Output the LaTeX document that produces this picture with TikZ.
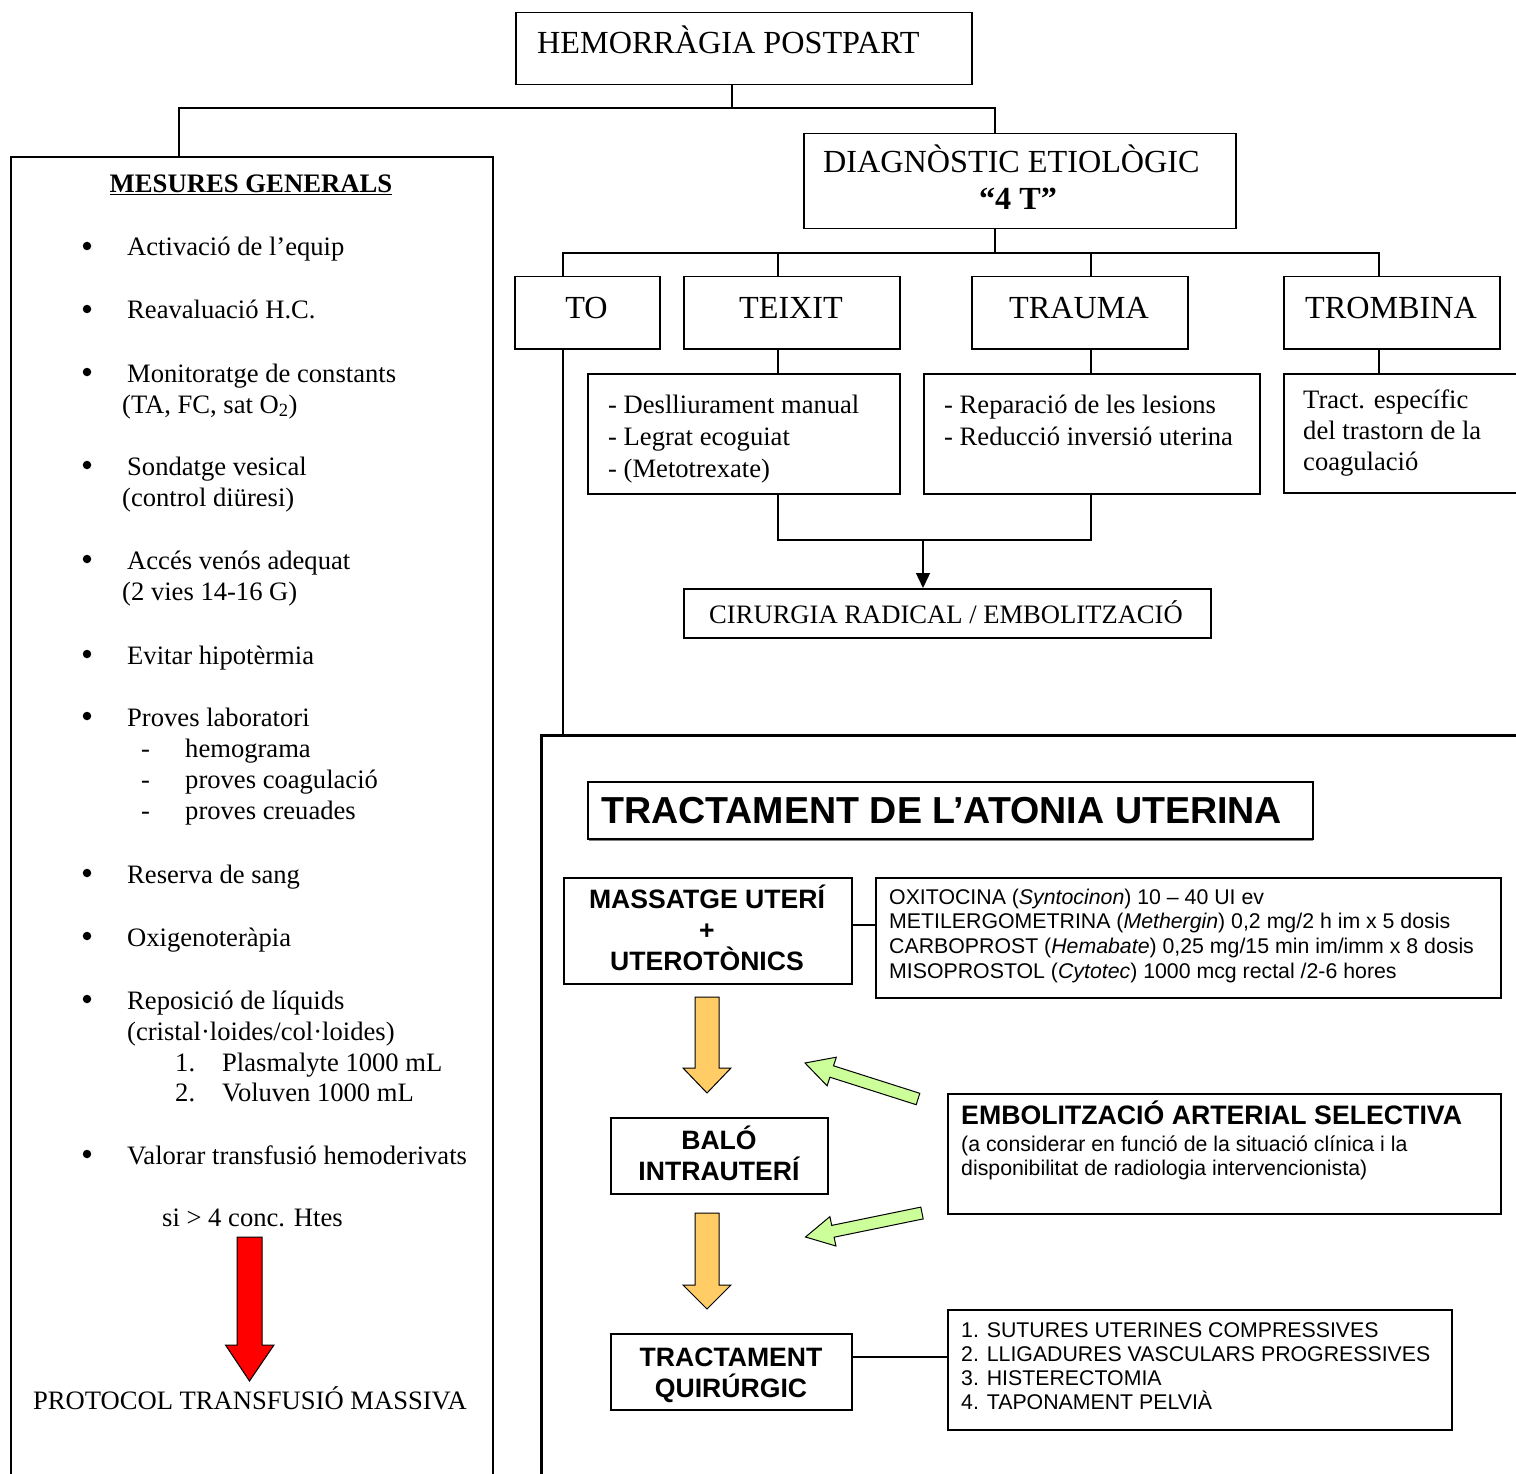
\documentclass[tikz,border=0pt]{standalone}
\usepackage{fontspec}
\setmainfont{Liberation Serif}
\setsansfont{Liberation Sans}
\usetikzlibrary{arrows.meta}
\definecolor{orangefill}{RGB}{255,204,102}
\definecolor{greenfill}{RGB}{204,255,153}
\begin{document}
\begin{tikzpicture}[x=1pt,y=-1pt,
  box/.style={draw, line width=1.5pt, inner sep=0pt, anchor=north west},
  link/.style={line width=1.4pt},
  txt/.style={anchor=base west, inner sep=0pt},
  ctxt/.style={anchor=base, inner sep=0pt},
  dot/.style={circle, fill, inner sep=0pt, minimum size=8.5pt},
  serifL/.style={font=\fontsize{32.2}{38}\selectfont},
  serifM/.style={font=\fontsize{26.6}{31}\selectfont},
  sansT/.style={font=\sffamily\bfseries\fontsize{37.6}{44}\selectfont},
  sansB/.style={font=\sffamily\bfseries\fontsize{26.6}{31}\selectfont},
  sansH/.style={font=\sffamily\bfseries\fontsize{26.7}{31}\selectfont},
  sansS/.style={font=\sffamily\fontsize{21.3}{25}\selectfont},
  blockarrow/.style={draw=black, line width=1pt, line join=miter},
]
\useasboundingbox (0,0) rectangle (1516,1474);
\clip (0,0) rectangle (1516,1474);

% ---------- boxes ----------
\node[box, minimum width=456pt, minimum height=72pt]  (hpp)      at (515,12) {};
\node[box, minimum width=482pt, minimum height=1340pt, line width=1.8pt] (mg) at (10,156) {};
\node[box, minimum width=432pt, minimum height=95pt]  (diag)     at (803,133) {};
\node[box, minimum width=145pt, minimum height=72pt]  (to)       at (514,276) {};
\node[box, minimum width=216pt, minimum height=72pt]  (teixit)   at (683,276) {};
\node[box, minimum width=216pt, minimum height=72pt]  (trauma)   at (971,276) {};
\node[box, minimum width=216pt, minimum height=72pt]  (trombina) at (1283,276) {};
\node[box, minimum width=312pt, minimum height=120pt] (teixitT)  at (587,373) {};
\node[box, minimum width=336pt, minimum height=120pt] (traumaT)  at (923,373) {};
\node[box, minimum width=260pt, minimum height=119pt] (trombT)   at (1283,373) {};
\node[box, minimum width=527pt, minimum height=49pt]  (cir)      at (683,588) {};
\node[box, minimum width=1000pt, minimum height=800pt, line width=3.4pt] (atonia) at (540,734) {};
\draw[line width=1.2pt, gray] (589,840) -- (1313,840);
\node[box, minimum width=725pt, minimum height=57pt]  (title)    at (587,781) {};
\node[box, minimum width=288pt, minimum height=106pt] (mass)     at (563,877) {};
\node[box, minimum width=625pt, minimum height=120pt] (drugs)    at (875,877) {};
\node[box, minimum width=217pt, minimum height=76pt]  (balo)     at (610,1117) {};
\node[box, minimum width=553pt, minimum height=120pt] (embol)    at (947,1093) {};
\node[box, minimum width=241pt, minimum height=76pt]  (quir)     at (610,1333) {};
\node[box, minimum width=504pt, minimum height=120pt] (surg)     at (947,1309) {};

% ---------- connector positions ----------
\coordinate (xA)  at (732,0);
\coordinate (xB)  at (179,0);
\coordinate (xC)  at (995,0);
\coordinate (xTo) at (563,0);
\coordinate (xTe) at (778,0);
\coordinate (xTa) at (1091,0);
\coordinate (xTr) at (1379,0);
\coordinate (xCi) at (923,0);
\coordinate (busA) at (0,108);
\coordinate (busB) at (0,253);
\coordinate (busC) at (0,540);
\coordinate (yM) at (0,925);
\coordinate (yQ) at (0,1357);

% ---------- connectors ----------
\draw[link] (hpp.south -| xA) -- (xA |- busA);
\draw[link] (mg.north -| xB) -- (xB |- busA) -- (xC |- busA) -- (diag.north -| xC);
\draw[link] (diag.south -| xC) -- (xC |- busB);
\draw[link] (to.north -| xTo) -- (xTo |- busB) -- (xTr |- busB) -- (trombina.north -| xTr);
\draw[link] (teixit.north -| xTe) -- (xTe |- busB);
\draw[link] (trauma.north -| xTa) -- (xTa |- busB);
\draw[link] (teixit.south -| xTe) -- (teixitT.north -| xTe);
\draw[link] (trauma.south -| xTa) -- (traumaT.north -| xTa);
\draw[link] (trombina.south -| xTr) -- (trombT.north -| xTr);
\draw[link] (teixitT.south -| xTe) -- (xTe |- busC) -- (xTa |- busC) -- (traumaT.south -| xTa);
\draw[link, -{Triangle[length=15pt, width=14pt]}] (xCi |- busC) -- (cir.north -| xCi);
\draw[link] (to.south -| xTo) -- (atonia.north -| xTo);
\draw[link] (mass.east |- yM) -- (drugs.west |- yM);
\draw[link] (quir.east |- yQ) -- (surg.west |- yQ);

% ---------- block arrows ----------
\filldraw[blockarrow, fill=orangefill] (695,997) -- (719,997) -- (719,1068) -- (731,1068)
  -- (707,1093) -- (683,1068) -- (695,1068) -- cycle;
\filldraw[blockarrow, fill=orangefill] (695,1213) -- (719,1213) -- (719,1285) -- (731,1285)
  -- (707,1309) -- (683,1285) -- (695,1285) -- cycle;
\filldraw[blockarrow, fill=greenfill] (919.8,1093.3) -- (833.5,1065.8) -- (836.3,1057.2)
  -- (805,1063) -- (827.1,1085.8) -- (829.9,1077.2) -- (916.2,1104.7) -- cycle;
\filldraw[blockarrow, fill=greenfill] (923.2,1218.9) -- (834.1,1237.2) -- (835.9,1246)
  -- (805.5,1237) -- (829.9,1216.6) -- (831.7,1225.4) -- (920.8,1207.1) -- cycle;
\filldraw[blockarrow, fill=red] (237,1237) -- (262,1237) -- (262,1345) -- (274,1345)
  -- (249.5,1381) -- (225.5,1345) -- (237,1345) -- cycle;

% ---------- upper tree texts ----------
\node[txt, serifL] (tHpp) at (537,54) {HEMORRÀGIA POSTPART};
\node[txt, serifL] (tDiag) at (823,173) {DIAGNÒSTIC ETIOLÒGIC};
\node[ctxt, font=\bfseries\fontsize{32.2}{38}\selectfont] (tDiag2) at (1018,210) {“4 T”};
\node[ctxt, serifL] (tTo) at (586.5,318) {TO};
\node[ctxt, serifL] (tTe) at (791,318) {TEIXIT};
\node[ctxt, serifL] (tTa) at (1079,318) {TRAUMA};
\node[ctxt, serifL] (tTr) at (1391,318) {TROMBINA};
\node[txt, serifM] (tTe1) at (608,413) {- Deslliurament manual};
\node[txt, serifM] (tTe2) at (608,445) {- Legrat ecoguiat};
\node[txt, serifM] (tTe3) at (608,477) {- (Metotrexate)};
\node[txt, serifM] (tTa1) at (944,413) {- Reparació de les lesions};
\node[txt, serifM] (tTa2) at (944,445) {- Reducció inversió uterina};
\node[txt, serifM] (tTr1) at (1303,408) {Tract. específic};
\node[txt, serifM] (tTr2) at (1303,439) {del trastorn de la};
\node[txt, serifM] (tTr3) at (1303,470) {coagulació};
\node[ctxt, serifM] (tCir) at (946,623) {CIRURGIA RADICAL / EMBOLITZACIÓ};

% ---------- general measures ----------
\node[ctxt, font=\bfseries\fontsize{26.7}{31}\selectfont] (tMg) at (251,193) {\underline{MESURES GENERALS}};
\foreach \yy/\nm in {256/d1,319/d2,382/d3,475/d4,569/d5,664/d6,726/d7,883/d8,946/d9,1009/d10,1164/d11}
  \node[dot] (\nm) at (87,\yy-10) {};
\node[txt, serifM] (m1)  at (127,256) {Activació de l’equip};
\node[txt, serifM] (m2)  at (127,319) {Reavaluació H.C.};
\node[txt, serifM] (m3)  at (127,382) {Monitoratge de constants};
\node[txt, serifM] (m3a) at (122,413) {(TA, FC, sat O\textsubscript{2})};
\node[txt, serifM] (m4)  at (127,475) {Sondatge vesical};
\node[txt, serifM] (m4a) at (122,506) {(control diüresi)};
\node[txt, serifM] (m5)  at (127,569) {Accés venós adequat};
\node[txt, serifM] (m5a) at (122,600) {(2 vies 14-16 G)};
\node[txt, serifM] (m6)  at (127,664) {Evitar hipotèrmia};
\node[txt, serifM] (m7)  at (127,726) {Proves laboratori};
\foreach \yy/\nm in {757/e1,788/e2,819/e3}
  \node[txt, serifM] (\nm) at (141,\yy) {-};
\node[txt, serifM] (m7a) at (185,757) {hemograma};
\node[txt, serifM] (m7b) at (185,788) {proves coagulació};
\node[txt, serifM] (m7c) at (185,819) {proves creuades};
\node[txt, serifM] (m8)  at (127,883) {Reserva de sang};
\node[txt, serifM] (m9)  at (127,946) {Oxigenoteràpia};
\node[txt, serifM] (m10) at (127,1009) {Reposició de líquids};
\node[txt, serifM] (m10a) at (127,1040) {(cristal·loides/col·loides)};
\node[txt, serifM] (n1)  at (175,1071) {1.};
\node[txt, serifM] (m10b) at (222,1071) {Plasmalyte 1000 mL};
\node[txt, serifM] (n2)  at (175,1101) {2.};
\node[txt, serifM] (m10c) at (222,1101) {Voluven 1000 mL};
\node[txt, serifM] (m11) at (127,1164) {Valorar transfusió hemoderivats};
\node[txt, serifM] (mSi) at (162,1226) {si > 4 conc. Htes};
\node[txt, serifM] (mProt) at (33,1409) {PROTOCOL TRANSFUSIÓ MASSIVA};

% ---------- uterine atony ----------
\node[txt, sansT] (tTitle) at (601,823) {TRACTAMENT DE L’ATONIA UTERINA};
\node[ctxt, sansB] (tMa1) at (707,908) {MASSATGE UTERÍ};
\node[ctxt, sansB] (tMa2) at (707,939) {+};
\node[ctxt, sansB] (tMa3) at (707,970) {UTEROTÒNICS};
\node[txt, sansS] (tD1) at (889,904) {OXITOCINA (\textit{Syntocinon}) 10 – 40 UI ev};
\node[txt, sansS] (tD2) at (889,928) {METILERGOMETRINA (\textit{Methergin}) 0,2 mg/2 h im x 5 dosis};
\node[txt, sansS] (tD3) at (889,953) {CARBOPROST (\textit{Hemabate}) 0,25 mg/15 min im/imm x 8 dosis};
\node[txt, sansS] (tD4) at (889,978) {MISOPROSTOL (\textit{Cytotec}) 1000 mcg rectal /2-6 hores};
\node[ctxt, sansB] (tBa1) at (719,1149) {BALÓ};
\node[ctxt, sansB] (tBa2) at (719,1180) {INTRAUTERÍ};
\node[txt, sansH] (tEm) at (961,1124) {EMBOLITZACIÓ ARTERIAL SELECTIVA};
\node[txt, sansS] (tEm1) at (961,1151) {(a considerar en funció de la situació clínica i la};
\node[txt, sansS] (tEm2) at (961,1175) {disponibilitat de radiologia intervencionista)};
\node[ctxt, sansB] (tQu1) at (731,1366) {TRACTAMENT};
\node[ctxt, sansB] (tQu2) at (731,1397) {QUIRÚRGIC};
\node[txt, sansS] (tS1) at (961,1337) {1. SUTURES UTERINES COMPRESSIVES};
\node[txt, sansS] (tS2) at (961,1361) {2. LLIGADURES VASCULARS PROGRESSIVES};
\node[txt, sansS] (tS3) at (961,1385) {3. HISTERECTOMIA};
\node[txt, sansS] (tS4) at (961,1409) {4. TAPONAMENT PELVIÀ};
\end{tikzpicture}
\end{document}
